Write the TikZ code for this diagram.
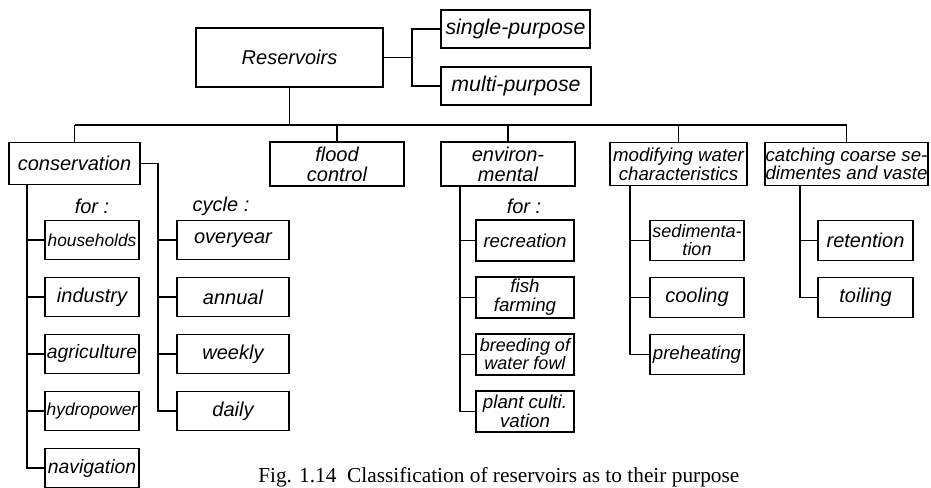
\documentclass[tikz,border=0pt]{standalone}
\usepackage{fontspec}
\setmainfont{Liberation Serif}
\newfontfamily\lettfont{Liberation Sans}
\usepackage{tikz}
\usetikzlibrary{calc}

\newcommand\lett[1]{\lettfont\itshape\fontsize{#1}{#1}\selectfont}

\tikzset{
  box/.style={draw, line width=1.3pt, inner sep=0pt, align=center, font=\lett{15}},
  bx/.style 2 args={box, minimum width=#1*0.75pt, minimum height=#2*0.75pt},
  link/.style={line width=1.3pt},
  tag/.style={font=\lett{15}, inner sep=0pt}
}

\begin{document}
\begin{tikzpicture}[x=0.75pt, y=-0.75pt]
\useasboundingbox (0,0) rectangle (931,488);

\node[bx={187}{59}] (res) at (289.5,57.5) {Reservoirs};
\node[bx={149}{38}, font=\lett{16}] (single) at (515.5,29) {single-purpose};
\node[bx={150}{38}, font=\lett{16}] (multi) at (516,86) {multi-purpose};

\node[bx={131}{42}] (cons) at (74.5,163.5) {conservation};
\node[bx={134}{44}] (flood) at (337,164) {flood\\control};
\node[bx={134}{44}] (env) at (508,164) {environ-\\mental};
\node[bx={137}{43}, font=\lett{14}] (mod) at (678.5,164) {modifying water\\characteristics};
\node[bx={163}{43}, font=\lett{14}] (catch) at (846.5,164) {catching coarse se-\\dimentes and vaste};

\node[tag] (for1) at (92,206) {for :};
\node[tag] (cyc) at (221,206) {cycle :};
\node[tag] (for2) at (524,206) {for :};

\foreach \nm/\t/\f [count=\i from 0] in {house/households/13, indus/industry/15,
    agri/agriculture/14.5, hydro/hydropower/13, navi/navigation/14.5}{
  \node[bx={94}{39}, font=\lett{\f}] (\nm) at (92,240+57*\i) {\t};
}
\foreach \nm/\t [count=\i from 0] in {over/overyear, annual/annual, weekly/weekly, daily/daily}{
  \node[bx={112}{39}] (\nm) at (233,240+57*\i) {\t};
}
\foreach \nm/\t/\f [count=\i from 0] in {recr/recreation/14, fish/{fish\\farming}/14,
    fowl/{breeding of\\water fowl}/13.5, plant/{plant culti.\\vation}/14}{
  \node[bx={98}{41}, font=\lett{\f}] (\nm) at (525,240.5+57*\i) {\t};
}
\foreach \nm/\t/\f [count=\i from 0] in {sedi/{sedimenta-\\tion}/13.5, cool/cooling/15,
    preh/preheating/14}{
  \node[bx={94}{40}, font=\lett{\f}] (\nm) at (697,240.5+57*\i) {\t};
}
\foreach \nm/\t [count=\i from 0] in {ret/retention, toil/toiling}{
  \node[bx={95}{40}] (\nm) at (865.5,240.5+57*\i) {\t};
}

\coordinate (jr) at (412,57.5);
\draw[link] (res) -- (jr);
\draw[link] (single.west) -| (jr) |- (multi.west);

\coordinate (bus) at (289.5,125);
\draw[link] (res) -- (bus);
\draw[link] (cons.north |- bus) -- (catch.north |- bus);
\foreach \n in {cons,flood,env,mod,catch}
  \draw[link] (\n.north |- bus) -- (\n.north);

\coordinate (fj) at (27,0);
\draw[link] (cons.south -| fj) |- (navi.west);
\foreach \n in {house,indus,agri,hydro}
  \draw[link] (\n.west) -- (\n.west -| fj);

\coordinate (cj) at (158,0);
\draw[link] (cons.east) -| (daily.west -| cj) -- (daily.west);
\foreach \n in {over,annual,weekly}
  \draw[link] (\n.west) -- (\n.west -| cj);

\coordinate (ej) at (460,0);
\draw[link] (env.south -| ej) |- (plant.west);
\foreach \n in {recr,fish,fowl}
  \draw[link] (\n.west) -- (\n.west -| ej);

\coordinate (mj) at (630,0);
\draw[link] (mod.south -| mj) |- (preh.west);
\foreach \n in {sedi,cool}
  \draw[link] (\n.west) -- (\n.west -| mj);

\coordinate (kj) at (800,0);
\draw[link] (catch.south -| kj) |- (toil.west);
\draw[link] (ret.west) -- (ret.west -| kj);

\node[anchor=base west, inner sep=0pt, font=\fontsize{16}{16}\selectfont] (cap)
  at (258,482) {Fig. 1.14\ \ Classification of reservoirs as to their purpose};
\end{tikzpicture}
\end{document}
